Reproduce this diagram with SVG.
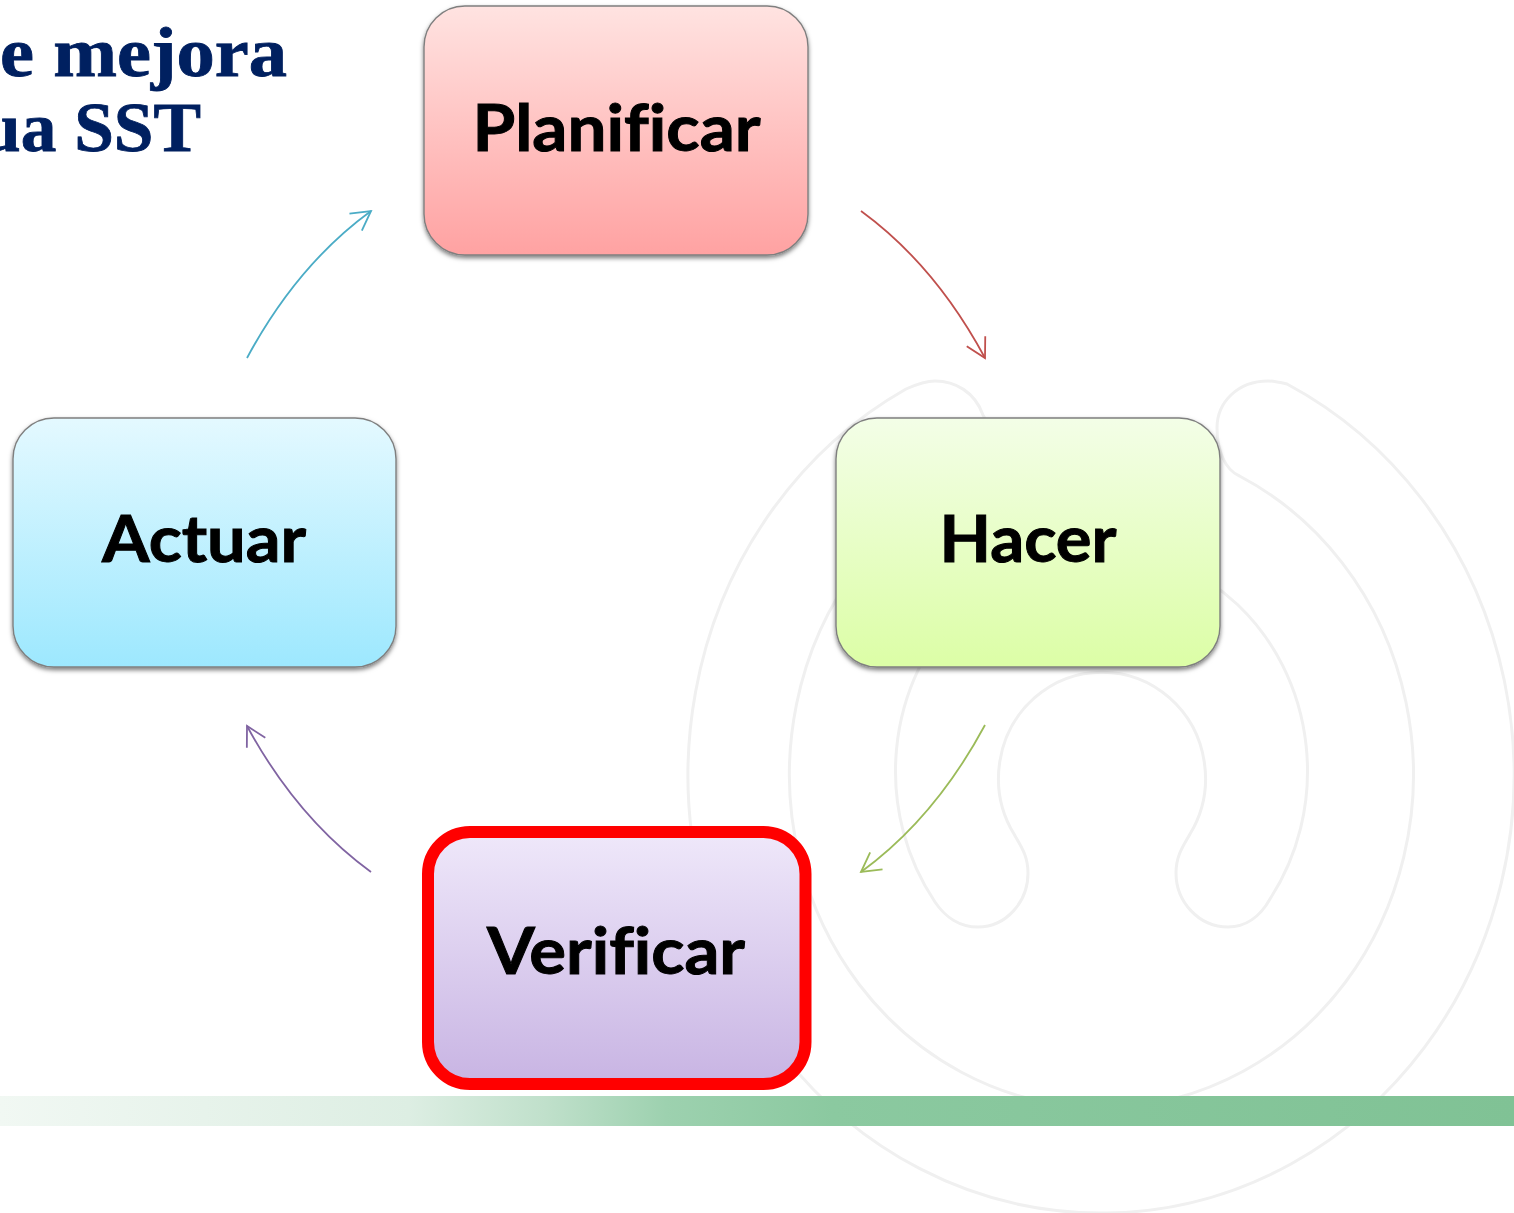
<svg xmlns="http://www.w3.org/2000/svg" width="1514" height="1213" viewBox="0 0 1514 1213">
<style>
.box{stroke:#7f7f7f;stroke-width:1.4;filter:url(#sh)}
.lbl{font-family:"Lato","Open Sans",sans-serif;font-weight:700;font-size:65px;fill:#000;stroke:#000;stroke-width:1;text-anchor:middle;font-variant-ligatures:none}
.title{font-family:"Liberation Serif",serif;font-weight:700;font-size:69px;fill:#002060;stroke:#002060;stroke-width:0.8;text-anchor:end}
.wm{fill:none;stroke:#f0f0f0;stroke-width:3}
.con{fill:none;stroke-width:1.8}
</style>
<defs>
<filter id="sh" x="-5%" y="-5%" width="110%" height="115%"><feDropShadow dx="0" dy="2.5" stdDeviation="2.2" flood-color="#000" flood-opacity="0.5"/></filter>
<linearGradient id="gr" x1="0" y1="0" x2="0" y2="1"><stop offset="0" stop-color="#FFE3E1"/><stop offset="1" stop-color="#FFA2A2"/></linearGradient>
<linearGradient id="gg" x1="0" y1="0" x2="0" y2="1"><stop offset="0" stop-color="#F3FEE7"/><stop offset="1" stop-color="#DCFEA6"/></linearGradient>
<linearGradient id="gb" x1="0" y1="0" x2="0" y2="1"><stop offset="0" stop-color="#E4F9FF"/><stop offset="1" stop-color="#9DE8FE"/></linearGradient>
<linearGradient id="gp" x1="0" y1="0" x2="0" y2="1"><stop offset="0" stop-color="#EFE8FA"/><stop offset="1" stop-color="#C8B4E3"/></linearGradient>
<linearGradient id="bar" x1="0" y1="0" x2="1" y2="0"><stop offset="0" stop-color="#F1F8F3"/><stop offset="0.27" stop-color="#DDEEE3"/><stop offset="0.36" stop-color="#C0E0CB"/><stop offset="0.44" stop-color="#9DD1AF"/><stop offset="0.55" stop-color="#8BC9A0"/><stop offset="1" stop-color="#80C295"/></linearGradient>
<marker id="mr" markerUnits="userSpaceOnUse" markerWidth="30" markerHeight="30" refX="22" refY="12" orient="auto"><path d="M3 1.500 L22 12 L3 22.500" fill="none" stroke="#C0504D" stroke-width="1.8"/></marker>
<marker id="mg" markerUnits="userSpaceOnUse" markerWidth="30" markerHeight="30" refX="22" refY="12" orient="auto"><path d="M3 1.500 L22 12 L3 22.500" fill="none" stroke="#9BBB59" stroke-width="1.8"/></marker>
<marker id="mp" markerUnits="userSpaceOnUse" markerWidth="30" markerHeight="30" refX="22" refY="12" orient="auto"><path d="M3 1.500 L22 12 L3 22.500" fill="none" stroke="#8064A2" stroke-width="1.8"/></marker>
<marker id="mc" markerUnits="userSpaceOnUse" markerWidth="30" markerHeight="30" refX="22" refY="12" orient="auto"><path d="M3 1.500 L22 12 L3 22.500" fill="none" stroke="#4BACC6" stroke-width="1.8"/></marker>
</defs>
<rect width="1514" height="1213" fill="#fff"/>
<g id="watermark">
<path class="wm" d="M961.500 477C985 450 990 425 983 415C975 392 955 381 935 381C925 381 915 385 906 389A413 438 0 1 0 1287 384C1278 382 1273 381 1268 381C1238 381 1217 402 1217 428C1217 450 1225 470 1239.500 476A312 333 0 1 1 961.500 477Z"/>
<path class="wm" d="M935 902C945 917 960 927 978 927C1006 927 1028 902 1028 873C1028 855 1020 845 1014 834A103.500 106 0 1 1 1190 834C1184 845 1176 855 1176 873C1176 902 1199 927 1228 927C1245 927 1260 917 1270 899A206 222 0 1 0 935 902Z"/>
</g>
<rect id="bar-band" x="0" y="1096" width="1514" height="30" fill="url(#bar)"/>
<g id="title">
<text class="title" x="287" y="76" textLength="287" lengthAdjust="spacingAndGlyphs">e mejora</text>
<text class="title" x="201" y="151" textLength="220" lengthAdjust="spacingAndGlyphs">ua SST</text>
</g>
<g id="connectors">
<path class="con" stroke="#C0504D" marker-end="url(#mr)" d="M861 211Q935 265 985 358"/>
<path class="con" stroke="#9BBB59" marker-end="url(#mg)" d="M985 725Q935 818 861 872"/>
<path class="con" stroke="#8064A2" marker-end="url(#mp)" d="M371 872Q297 818 247 726"/>
<path class="con" stroke="#4BACC6" marker-end="url(#mc)" d="M247 358Q297 265 371 211"/>
</g>
<g id="planificar">
<rect class="box" x="424" y="6" width="384" height="249" rx="41" fill="url(#gr)"/>
<text class="lbl" x="616.500" y="151" textLength="288" lengthAdjust="spacingAndGlyphs">Planificar</text>
</g>
<g id="hacer">
<rect class="box" x="836" y="418" width="384" height="249" rx="41" fill="url(#gg)"/>
<text class="lbl" x="1028" y="562" textLength="177" lengthAdjust="spacingAndGlyphs">Hacer</text>
</g>
<g id="verificar">
<rect x="428" y="832" width="377.500" height="252" rx="42" fill="url(#gp)" stroke="#FF0000" stroke-width="12"/>
<text class="lbl" x="616" y="974" textLength="258" lengthAdjust="spacingAndGlyphs">Verificar</text>
</g>
<g id="actuar">
<rect class="box" x="13" y="418" width="383" height="249" rx="41" fill="url(#gb)"/>
<text class="lbl" x="204" y="562" textLength="204" lengthAdjust="spacingAndGlyphs">Actuar</text>
</g>
</svg>
